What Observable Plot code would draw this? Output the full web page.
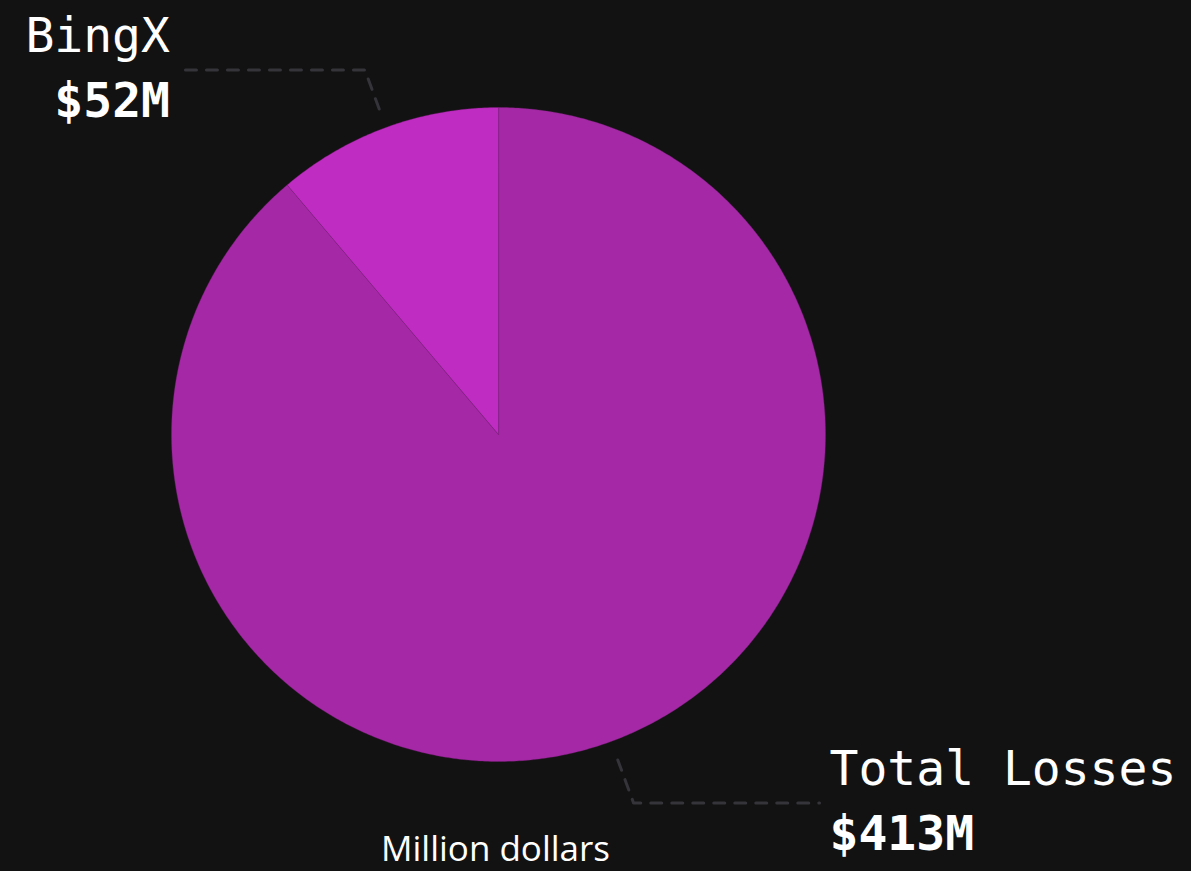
<!DOCTYPE html>
<html>
<head>
<meta charset="utf-8">
<script src="https://cdn.jsdelivr.net/npm/d3@7"></script>
<script src="https://cdn.jsdelivr.net/npm/@observablehq/plot@0.6"></script>
<style>
  html, body { margin: 0; padding: 0; background: #121212; }
  #chart { width: 1191px; height: 871px; }
</style>
</head>
<body>
<div id="chart"></div>
<script>
// ---- data ----
const categories = ["Total Losses", "BingX"];
const values = [413, 52];
const valueLabels = ["$413M", "$52M"];
const sliceColors = ["#A529A6", "#BF2CC2"];
const unitCaption = "Million dollars";

// ---- layout ----
const W = 1191, H = 871;
const cx = 498, cy = 434, R = 327;

const rows = categories.map((c, i) => ({label: c, value: values[i], valueLabel: valueLabels[i]}));
const arcs = d3.pie().sort(null).value(d => d.value)(rows);

// slice polygons
const polys = [];
arcs.forEach(a => {
  const name = a.data.label;
  polys.push({name, x: cx, y: cy});
  const n = Math.max(4, Math.ceil((a.endAngle - a.startAngle) / (Math.PI / 360)));
  for (let k = 0; k <= n; k++) {
    const t = a.startAngle + (a.endAngle - a.startAngle) * k / n;
    polys.push({name, x: cx + R * Math.sin(t), y: cy - R * Math.cos(t)});
  }
});

// leader lines and labels
const leaders = [];
const labelsTop = [], labelsBottom = [];
arcs.forEach(a => {
  const name = a.data.label;
  const m = (a.startAngle + a.endAngle) / 2;
  const s = Math.sin(m), c = Math.cos(m);
  const right = s >= 0;
  const r2 = right ? 1.2 : 1.187;
  const p1 = {x: cx + R * 1.06 * s, y: cy - R * 1.06 * c};
  const p2 = {x: cx + R * r2 * s, y: cy - R * r2 * c};
  const p3 = {x: p2.x + (right ? 186 : -185), y: p2.y};
  [p1, p2, p3].forEach(p => leaders.push({name, ...p}));
  const tx = p3.x + (right ? 10 : -10);
  const anchor = right ? "start" : "end";
  labelsTop.push({x: tx, y: p3.y - 33, text: name, anchor});
  labelsBottom.push({x: tx, y: p3.y + 32, text: a.data.valueLabel, anchor});
});

const mono = "'DejaVu Sans Mono', 'Liberation Mono', monospace";

const chart = Plot.plot({
  width: W,
  height: H,
  margin: 0,
  style: {background: "#121212", overflow: "visible"},
  x: {domain: [0, W], range: [0, W], axis: null},
  y: {domain: [0, H], range: [0, H], axis: null},
  color: {domain: categories, range: sliceColors},
  marks: [
    Plot.line(polys, {
      x: "x", y: "y", z: "name", fill: "name",
      stroke: "#7a1f7c", strokeWidth: 0.6, strokeOpacity: 0.6,
      curve: "linear-closed"
    }),
    Plot.line(leaders, {
      x: "x", y: "y", z: "name",
      stroke: "#34343a", strokeWidth: 3, strokeDasharray: "11,10"
    }),
    Plot.text(labelsTop.filter(d => d.anchor === "end"), {
      x: "x", y: "y", text: "text", textAnchor: "end",
      fill: "white", fontSize: 48, fontFamily: mono
    }),
    Plot.text(labelsTop.filter(d => d.anchor === "start"), {
      x: "x", y: "y", text: "text", textAnchor: "start",
      fill: "white", fontSize: 48, fontFamily: mono
    }),
    Plot.text(labelsBottom.filter(d => d.anchor === "end"), {
      x: "x", y: "y", text: "text", textAnchor: "end",
      fill: "white", fontSize: 48, fontWeight: "bold", fontFamily: mono
    }),
    Plot.text(labelsBottom.filter(d => d.anchor === "start"), {
      x: "x", y: "y", text: "text", textAnchor: "start",
      fill: "white", fontSize: 48, fontWeight: "bold", fontFamily: mono
    }),
    Plot.text([unitCaption], {
      x: () => cx - 3, y: () => H - 22, text: d => d,
      fill: "white", fontSize: 35, fontFamily: "'Open Sans', sans-serif"
    })
  ]
});
document.getElementById("chart").appendChild(chart);
</script>
</body>
</html>
